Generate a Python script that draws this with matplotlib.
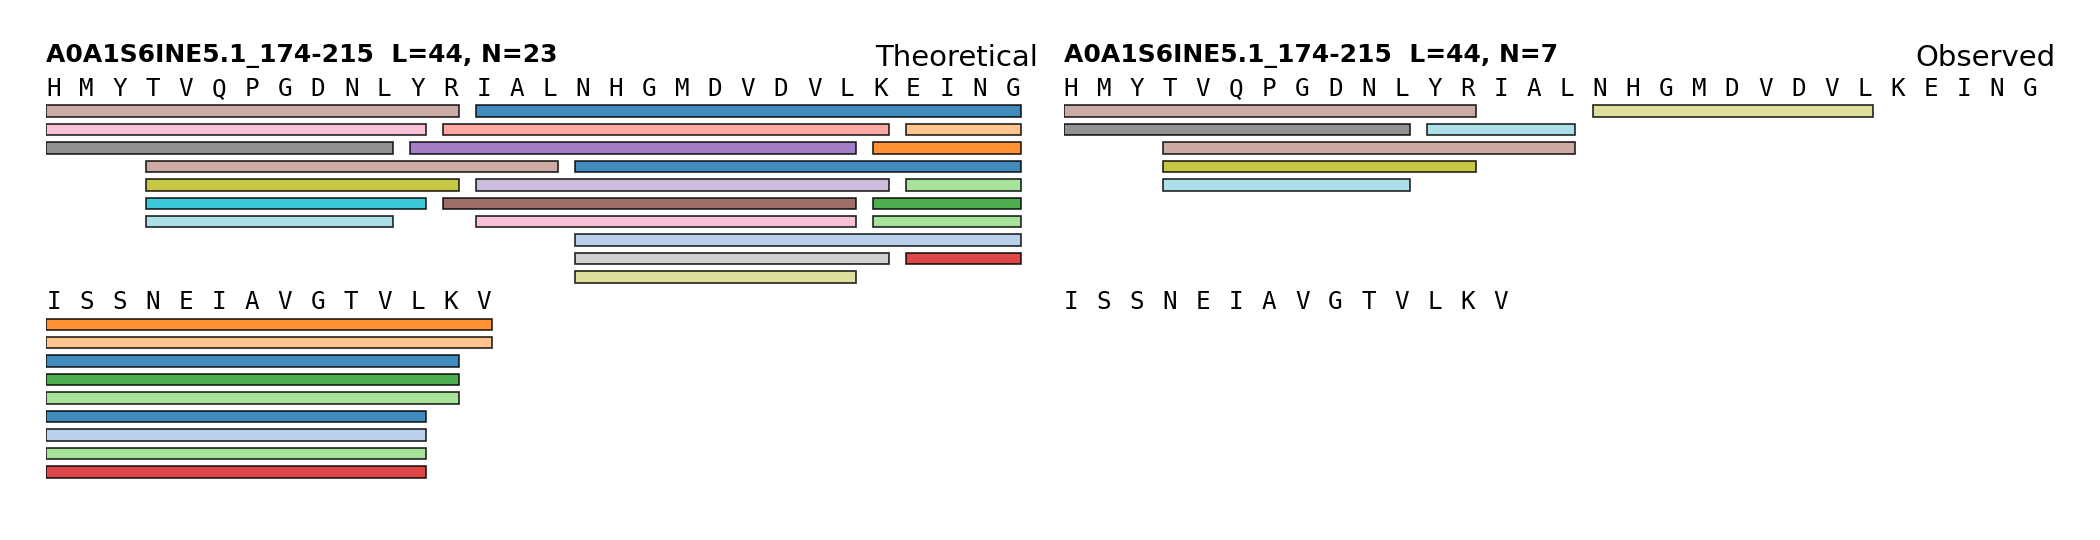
import matplotlib.pyplot as plt
from matplotlib.patches import Rectangle

# données
protein = "A0A1S6INE5.1_174-215"
sequence = "HMYTVQPGDNLYRIALNHGMDVDVLKEINGISSNEIAVGTVLKV"

theo_start = [0, 0, 0, 3, 3, 3, 3, 11, 12, 12, 13, 13, 13, 16, 16, 16, 16, 25, 25, 25, 26, 26, 26]
theo_end = [12, 11, 10, 15, 12, 11, 10, 24, 25, 24, 41, 25, 24, 42, 41, 25, 24, 43, 42, 41, 43, 42, 41]
theo_color = ["#c49c94", "#f7b6d2", "#7f7f7f", "#c49c94", "#bcbd22", "#17becf", "#9edae5",
              "#9467bd", "#ff9896", "#8c564b", "#1f77b4", "#c5b0d5", "#f7b6d2", "#1f77b4",
              "#aec7e8", "#c7c7c7", "#dbdb8d", "#ff7f0e", "#2ca02c", "#98df8a", "#ffbb78",
              "#98df8a", "#d62728"]

obs_start = [0, 0, 3, 3, 3, 11, 16]
obs_end = [12, 10, 15, 12, 10, 15, 24]
obs_color = ["#c49c94", "#7f7f7f", "#c49c94", "#bcbd22", "#9edae5", "#9edae5", "#dbdb8d"]

per_line = 30


def ranger(starts, ends):
    """Répartit les peptides en rangées, ligne par ligne (retour à la ligne tous les 30 résidus)."""
    order = sorted(range(len(starts)), key=lambda k: (starts[k], -ends[k]))
    lines = []
    for lo in range(0, len(sequence), per_line):
        hi = min(lo + per_line, len(sequence)) - 1
        segs = []
        for k in order:
            s, e = max(starts[k], lo), min(ends[k], hi)
            if s <= e:
                segs.append((s, e, k))
        segs.sort(key=lambda t: (t[0], -t[1]))
        rows_end = []
        placed = []
        for s, e, k in segs:
            r = next((i for i, fin in enumerate(rows_end) if fin < s), None)
            if r is None:
                rows_end.append(e)
                r = len(rows_end) - 1
            else:
                rows_end[r] = e
            placed.append((s, e, k, r))
        lines.append((lo, hi, placed, len(rows_end)))
    return lines


panels = [
    ("Theoretical", theo_start, theo_end, theo_color),
    ("Observed", obs_start, obs_end, obs_color),
]
layouts = [ranger(p[1], p[2]) for p in panels]
n_lines = len(layouts[0])
rows_per_line = [max(lay[i][3] for lay in layouts) for i in range(n_lines)]

# position de la ligne de base de chaque ligne de séquence
baselines = [0.0]
for n in rows_per_line[:-1]:
    baselines.append(baselines[-1] + n + 1.56)

fig = plt.figure(figsize=(21, 5.4), dpi=100)
px = 18.45  # hauteur d'une rangée en pixels
y_top = -95.7 / px
y_bot = (540 - 95.7) / px

lefts = [46.3, 1063.5]
for (label, starts, ends, colors), lay, left in zip(panels, layouts, lefts):
    ax = fig.add_axes([left / 2100, 0, per_line * 33.07 / 2100, 1])
    ax.set_xlim(0, per_line)
    ax.set_ylim(y_bot, y_top)
    ax.axis("off")

    ax.text(0, -1.81, f"{protein}  L={len(sequence)}, N={len(starts)}",
            fontsize=18, fontweight="bold", ha="left", va="baseline")
    ax.text(per_line, -1.63, label, fontsize=21, ha="right", va="baseline")

    for (lo, hi, placed, _), y0 in zip(lay, baselines):
        for i in range(lo, hi + 1):
            ax.text(i - lo + 0.22, y0, sequence[i], fontsize=17.5,
                    family="DejaVu Sans Mono", ha="center", va="baseline")
        for s, e, k, r in placed:
            yc = y0 + 0.83 + r
            ax.add_patch(Rectangle((s - lo, yc - 0.31), e - s + 0.48, 0.62,
                                   facecolor=colors[k], edgecolor="black",
                                   linewidth=1.2, alpha=0.85))

fig.savefig("out.png", dpi=100)
